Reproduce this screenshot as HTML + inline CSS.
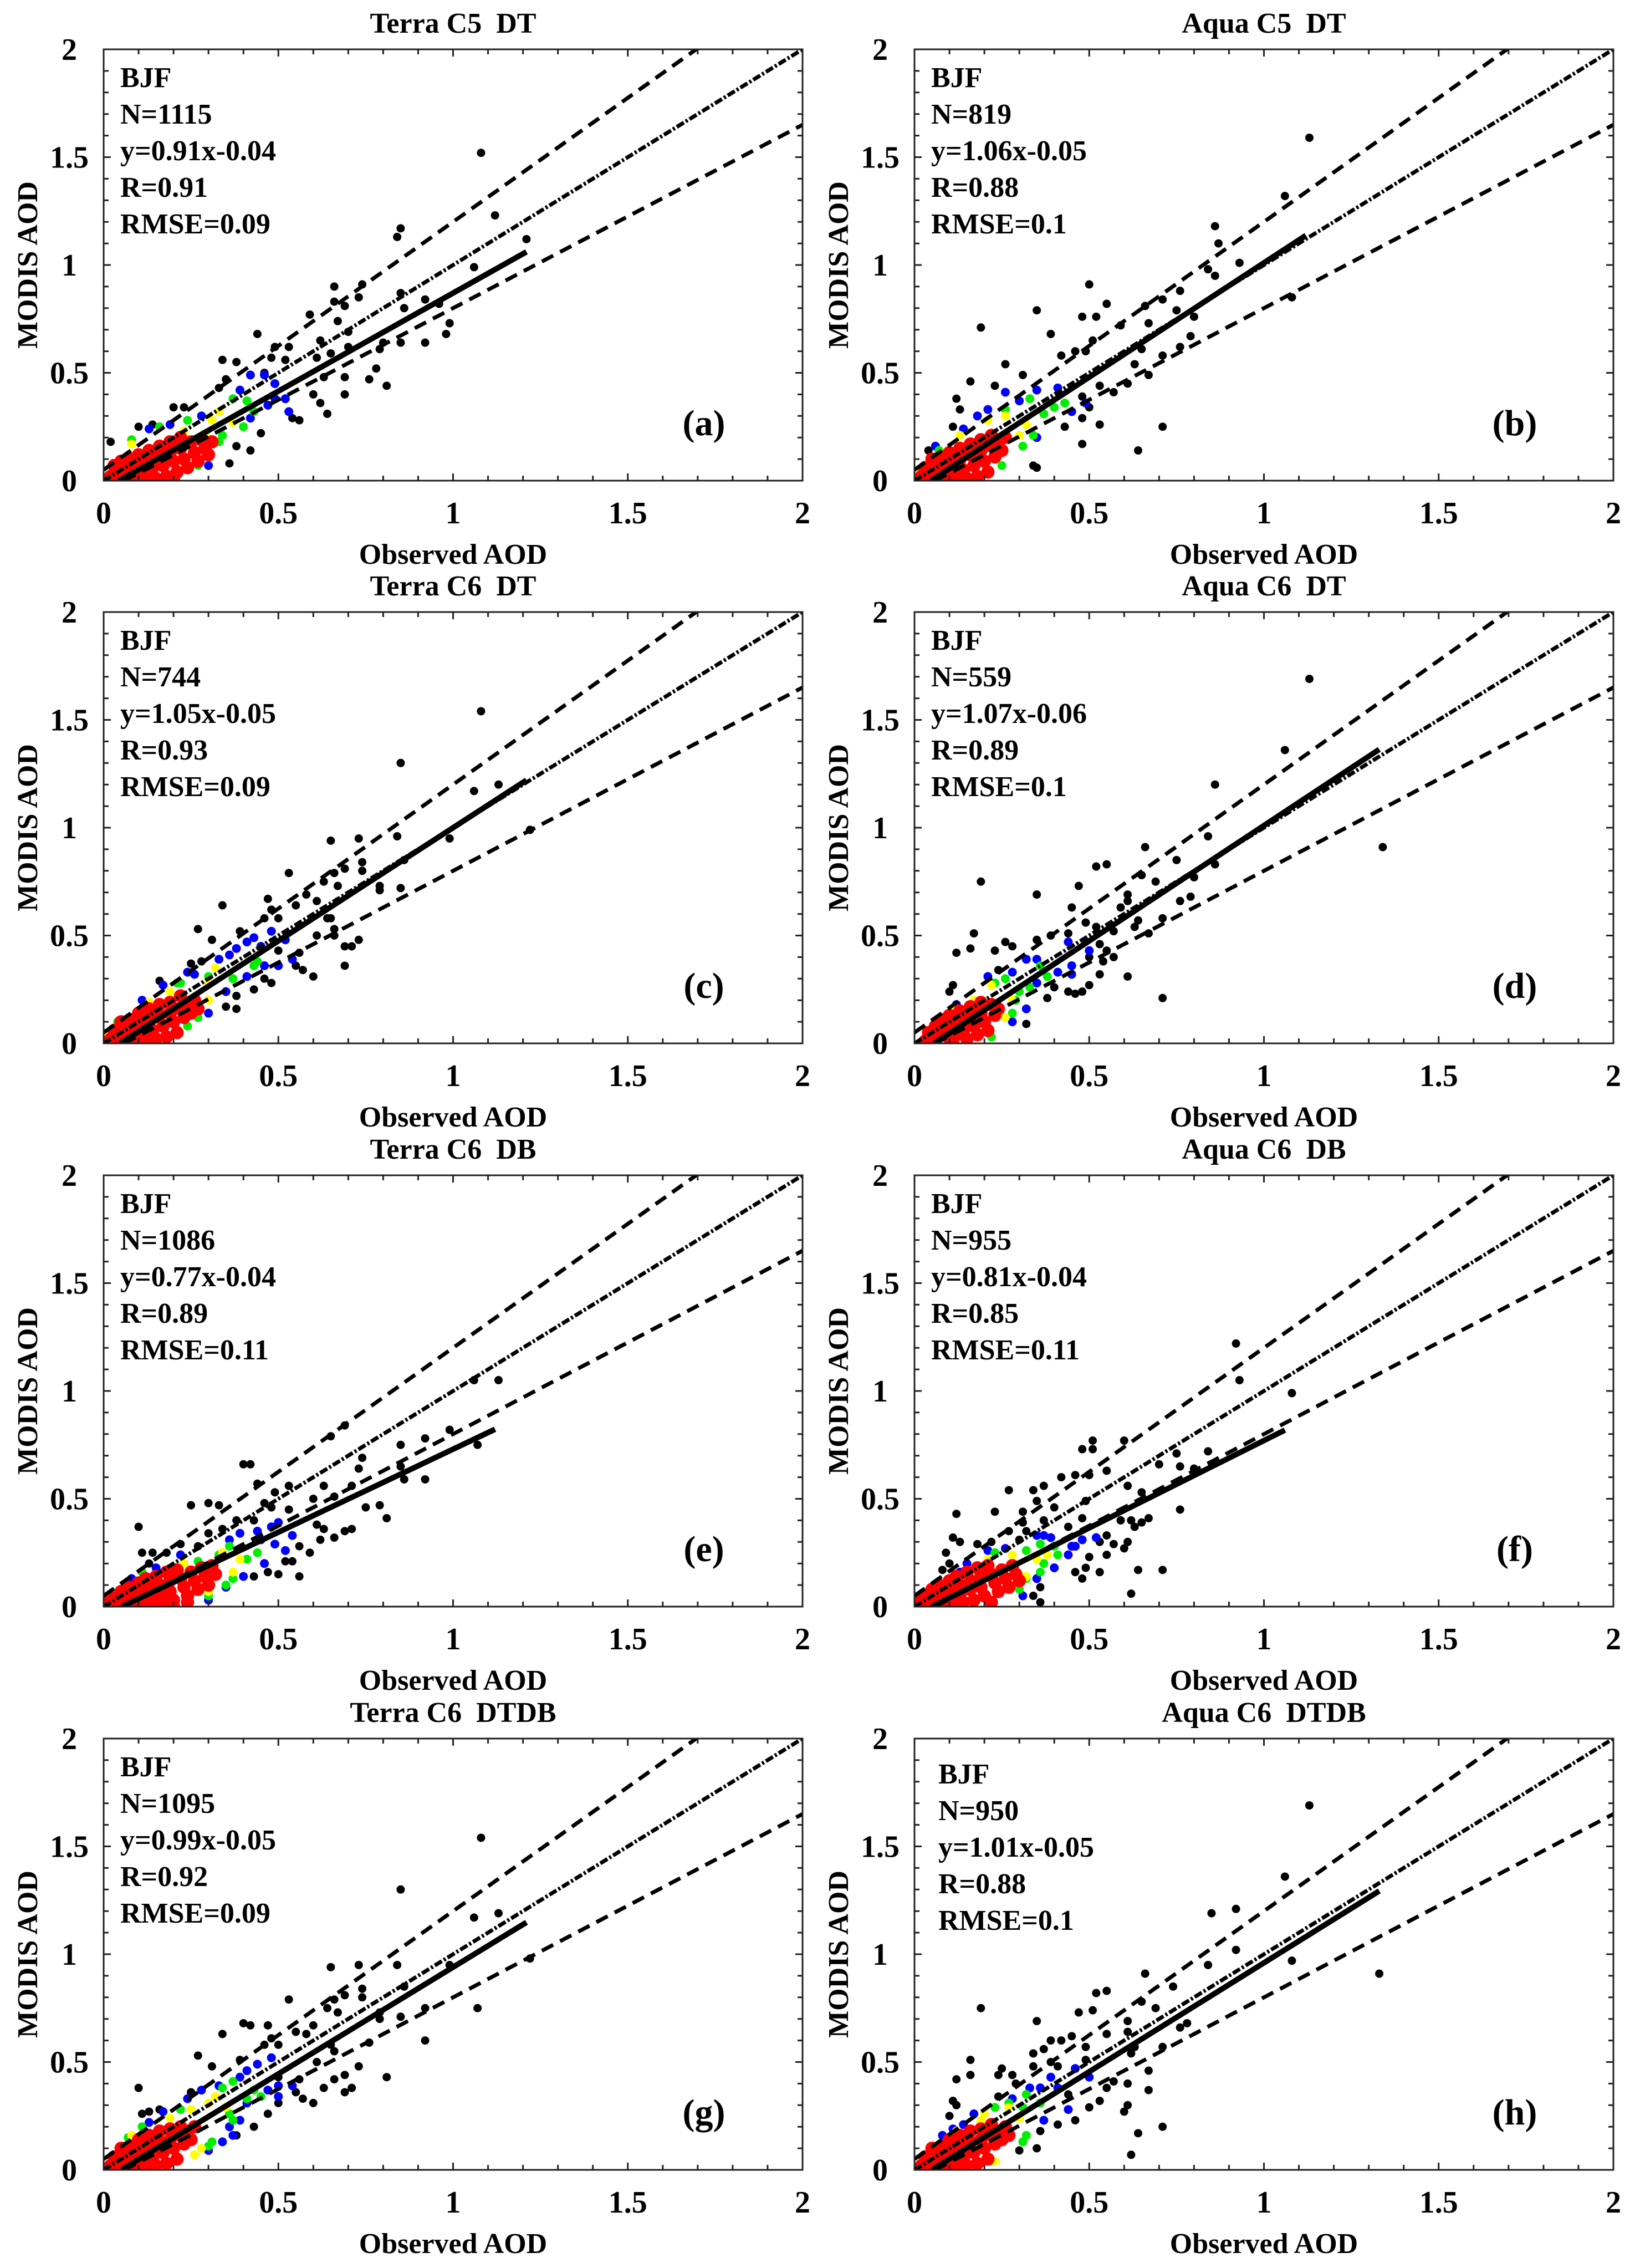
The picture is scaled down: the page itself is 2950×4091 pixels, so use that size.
<!DOCTYPE html>
<html><head><meta charset="utf-8"><style>
html,body{margin:0;padding:0;background:#fff}
svg{display:block}
text{font-family:"Liberation Serif","DejaVu Serif",serif;font-weight:bold;fill:#000;white-space:pre}
</style></head><body>
<svg id="fig" xmlns="http://www.w3.org/2000/svg" width="2950" height="4091" viewBox="0 0 2950 4091"></svg>
<script>
const panelIds=['a','b','c','d','e','f','g','h'];
const titles=['Terra C5  DT','Aqua C5  DT','Terra C6  DT','Aqua C6  DT','Terra C6  DB','Aqua C6  DB','Terra C6  DTDB','Aqua C6  DTDB'];
const nValues=[1115,819,744,559,1086,955,1095,950];
const slopes=[0.91,1.06,1.05,1.07,0.77,0.81,0.99,1.01];
const intercepts=[-0.04,-0.05,-0.05,-0.06,-0.04,-0.04,-0.05,-0.05];
const rValues=[0.91,0.88,0.93,0.89,0.89,0.85,0.92,0.88];
const rmseValues=[0.09,0.1,0.09,0.1,0.11,0.11,0.09,0.1];
const fitMaxX=[1.21,1.12,1.21,1.33,1.12,1.06,1.21,1.33];
const tickValues=[0,0.5,1,1.5,2];
const tickLabels=['0','0.5','1','1.5','2'];

const blackA=[1.08,1.52,1.12,1.23,1.21,1.12,0.85,1.17,0.84,1.13,1.06,0.99,0.66,0.90,0.74,0.91,0.73,0.85,0.66,0.83,0.85,0.87,0.92,0.84,0.96,0.82,0.86,0.80,0.99,0.73,0.98,0.68,0.92,0.64,0.85,0.64,0.80,0.64,0.79,0.61,0.69,0.81,0.67,0.74,0.59,0.77,0.70,0.69,0.62,0.65,0.70,0.62,0.65,0.59,0.61,0.57,0.53,0.62,0.49,0.62,0.44,0.68,0.52,0.56,0.78,0.52,0.76,0.47,0.69,0.48,0.81,0.44,0.63,0.48,0.69,0.40,0.60,0.40,0.62,0.36,0.64,0.31,0.56,0.28,0.54,0.29,0.45,0.22,0.42,0.14,0.38,0.16,0.36,0.08,0.34,0.56,0.38,0.55,0.35,0.47,0.33,0.43,0.23,0.34,0.20,0.34,0.10,0.25,0.02,0.18,0.14,0.26,0.48,0.57,0.46,0.50];
const blueA=[0.42,0.49,0.46,0.49,0.49,0.45,0.52,0.38,0.47,0.35,0.39,0.42,0.53,0.32,0.13,0.24,0.19,0.26,0.28,0.30,0.30,0.07,0.42,0.29,0.49,0.38];
const greenA=[0.37,0.38,0.41,0.37,0.43,0.32,0.33,0.18,0.34,0.21,0.27,0.07,0.24,0.28,0.08,0.19,0.16,0.25,0.40,0.25];
const yellowA=[0.33,0.32,0.31,0.28,0.37,0.27,0.30,0.13,0.08,0.17,0.23,0.23,0.29,0.22];
const redA=[0.02,0.02,0.04,0.05,0.05,0.01,0.06,0.08,0.07,0.03,0.08,0.10,0.09,0.05,0.10,0.01,0.10,0.12,0.11,0.08,0.12,0.03,0.13,0.14,0.13,0.10,0.14,0.06,0.15,0.01,0.16,0.16,0.16,0.11,0.17,0.07,0.18,0.02,0.19,0.18,0.19,0.13,0.20,0.09,0.21,0.04,0.22,0.20,0.22,0.15,0.23,0.10,0.24,0.06,0.25,0.18,0.26,0.13,0.27,0.09,0.28,0.19,0.29,0.15,0.30,0.12,0.31,0.18,0.05,0.09,0.03,0.07,0.08,0.00,0.12,0.00,0.17,0.00,0.20,0.01];

const blackB=[1.13,1.59,1.06,1.32,0.86,1.18,0.87,1.10,0.93,1.01,0.84,0.98,0.86,0.95,0.76,0.88,0.71,0.84,0.66,0.81,0.75,0.79,0.80,0.76,1.08,0.85,0.50,0.91,0.55,0.82,0.35,0.79,0.48,0.76,0.52,0.76,0.59,0.72,0.67,0.73,0.19,0.71,0.39,0.68,0.51,0.65,0.46,0.60,0.42,0.58,0.49,0.60,0.79,0.67,0.76,0.62,0.71,0.58,0.65,0.61,0.63,0.54,0.67,0.49,0.26,0.54,0.16,0.46,0.31,0.49,0.23,0.44,0.12,0.38,0.13,0.33,0.53,0.44,0.57,0.41,0.61,0.45,0.48,0.39,0.50,0.34,0.48,0.29,0.43,0.25,0.53,0.26,0.71,0.25,0.48,0.17,0.64,0.14,0.34,0.07,0.35,0.06,0.04,0.14,0.11,0.25];
const blueB=[0.26,0.41,0.30,0.37,0.35,0.42,0.41,0.43,0.45,0.32,0.49,0.36,0.18,0.30,0.14,0.24,0.35,0.20,0.06,0.16,0.21,0.33];
const greenB=[0.33,0.38,0.37,0.31,0.40,0.34,0.43,0.36,0.34,0.21,0.31,0.16,0.25,0.07,0.26,0.33,0.07,0.14];
const yellowB=[0.26,0.30,0.32,0.26,0.21,0.28,0.30,0.21,0.02,0.05,0.13,0.21];
const redB=[0.02,0.02,0.03,0.06,0.05,0.01,0.06,0.09,0.07,0.04,0.08,0.11,0.09,0.06,0.10,0.01,0.10,0.13,0.11,0.08,0.12,0.03,0.13,0.15,0.13,0.10,0.14,0.05,0.15,0.01,0.16,0.17,0.16,0.12,0.17,0.07,0.18,0.02,0.19,0.19,0.19,0.14,0.20,0.09,0.21,0.04,0.22,0.21,0.22,0.16,0.23,0.11,0.24,0.18,0.25,0.14,0.26,0.20,0.05,0.10,0.08,0.00,0.12,0.00];

const blackC=[1.08,1.54,0.85,1.30,1.06,1.17,1.13,1.20,0.99,0.95,1.22,0.99,0.65,0.94,0.73,0.95,0.84,0.96,0.86,0.85,0.74,0.84,0.69,0.81,0.74,0.80,0.53,0.79,0.66,0.79,0.63,0.75,0.67,0.73,0.79,0.73,0.79,0.71,0.85,0.72,0.58,0.69,0.47,0.67,0.55,0.64,0.61,0.66,0.34,0.64,0.48,0.62,0.50,0.58,0.46,0.58,0.64,0.58,0.65,0.58,0.66,0.53,0.61,0.50,0.66,0.50,0.73,0.48,0.71,0.45,0.69,0.45,0.69,0.36,0.27,0.53,0.31,0.48,0.39,0.52,0.50,0.43,0.56,0.42,0.55,0.36,0.57,0.34,0.60,0.31,0.25,0.37,0.28,0.38,0.16,0.29,0.46,0.30,0.48,0.28,0.43,0.25,0.38,0.22,0.35,0.17,0.38,0.16];
const blueC=[0.33,0.39,0.36,0.41,0.38,0.44,0.41,0.47,0.43,0.49,0.48,0.52,0.52,0.48,0.46,0.36,0.50,0.36,0.41,0.31,0.24,0.33,0.26,0.32,0.17,0.27,0.11,0.20,0.35,0.24,0.30,0.14,0.54,0.39,0.45,0.45];
const greenC=[0.43,0.36,0.44,0.38,0.37,0.30,0.30,0.31,0.21,0.28,0.22,0.28,0.27,0.12,0.24,0.08,0.04,0.10];
const yellowC=[0.32,0.35,0.30,0.28,0.30,0.20,0.13,0.19,0.19,0.24,0.01,0.03];
const redC=[0.02,0.02,0.03,0.06,0.05,0.01,0.06,0.09,0.07,0.04,0.08,0.11,0.09,0.06,0.10,0.01,0.10,0.14,0.11,0.09,0.12,0.03,0.13,0.16,0.13,0.11,0.14,0.06,0.15,0.02,0.16,0.18,0.16,0.13,0.17,0.08,0.18,0.03,0.19,0.19,0.19,0.14,0.20,0.10,0.21,0.05,0.22,0.22,0.22,0.16,0.23,0.12,0.24,0.18,0.25,0.14,0.26,0.20,0.27,0.16,0.05,0.10,0.08,0.00,0.12,0.00];

const blackD=[1.13,1.69,1.06,1.36,0.86,1.20,1.34,0.91,0.84,0.96,0.66,0.91,0.75,0.85,0.86,0.83,0.52,0.82,0.55,0.83,0.65,0.78,0.69,0.75,0.80,0.77,0.47,0.73,0.61,0.69,0.61,0.66,0.76,0.66,0.79,0.68,0.19,0.75,0.35,0.69,0.45,0.63,0.59,0.63,0.49,0.56,0.64,0.57,0.63,0.54,0.71,0.58,0.57,0.52,0.67,0.51,0.52,0.54,0.17,0.51,0.16,0.44,0.12,0.42,0.26,0.47,0.28,0.45,0.23,0.43,0.35,0.48,0.39,0.50,0.44,0.51,0.53,0.46,0.55,0.43,0.54,0.38,0.57,0.40,0.50,0.40,0.53,0.32,0.50,0.27,0.61,0.31,0.71,0.21,0.44,0.24,0.46,0.23,0.48,0.24,0.40,0.26,0.38,0.21,0.10,0.24,0.11,0.27,0.24,0.34,0.32,0.09];
const blueD=[0.32,0.39,0.35,0.39,0.44,0.47,0.50,0.43,0.45,0.36,0.41,0.33,0.35,0.28,0.28,0.33,0.21,0.31,0.32,0.16,0.28,0.10,0.12,0.18,0.45,0.32];
const greenD=[0.36,0.36,0.38,0.31,0.26,0.30,0.23,0.28,0.30,0.24,0.33,0.26,0.29,0.20,0.22,0.03,0.28,0.14];
const yellowD=[0.17,0.20,0.28,0.20,0.26,0.12,0.12,0.16,0.03,0.01,0.22,0.27];
const redD=[0.03,0.01,0.04,0.05,0.05,0.02,0.06,0.08,0.07,0.04,0.08,0.11,0.09,0.06,0.10,0.02,0.10,0.13,0.11,0.09,0.12,0.04,0.13,0.15,0.13,0.10,0.14,0.06,0.15,0.02,0.16,0.17,0.16,0.12,0.17,0.08,0.18,0.04,0.19,0.19,0.19,0.14,0.20,0.10,0.21,0.06,0.22,0.18,0.23,0.13,0.24,0.16,0.06,0.00,0.11,0.00];

const blackE=[1.13,1.05,1.06,1.05,0.69,0.84,0.65,0.79,0.99,0.82,0.92,0.78,0.85,0.75,1.07,0.75,0.74,0.69,0.73,0.64,0.85,0.65,0.86,0.59,0.92,0.59,0.40,0.66,0.42,0.66,0.44,0.57,0.53,0.56,0.49,0.53,0.63,0.56,0.71,0.56,0.66,0.51,0.60,0.50,0.46,0.48,0.48,0.46,0.53,0.45,0.75,0.46,0.79,0.47,0.81,0.41,0.25,0.47,0.30,0.48,0.33,0.47,0.38,0.40,0.43,0.40,0.61,0.38,0.63,0.36,0.69,0.35,0.71,0.36,0.66,0.32,0.62,0.31,0.10,0.37,0.30,0.34,0.34,0.36,0.22,0.29,0.27,0.28,0.18,0.25,0.11,0.25,0.14,0.25,0.56,0.28,0.59,0.25,0.52,0.21,0.54,0.21,0.56,0.14,0.50,0.15,0.47,0.16,0.43,0.14,0.13,0.20];
const blueE=[0.48,0.37,0.50,0.39,0.44,0.35,0.45,0.31,0.49,0.29,0.52,0.26,0.54,0.33,0.39,0.34,0.36,0.31,0.22,0.24,0.15,0.18,0.08,0.13,0.46,0.20,0.40,0.14,0.35,0.09,0.30,0.03];
const greenE=[0.41,0.22,0.44,0.25,0.36,0.28,0.37,0.13,0.35,0.10,0.27,0.21,0.11,0.16,0.30,0.05,0.33,0.24];
const yellowE=[0.37,0.16,0.39,0.22,0.23,0.20,0.30,0.07,0.34,0.25];
const redE=[0.01,0.02,0.03,0.04,0.04,0.01,0.05,0.07,0.06,0.03,0.07,0.09,0.08,0.05,0.09,0.01,0.10,0.11,0.10,0.07,0.11,0.03,0.12,0.13,0.13,0.09,0.13,0.05,0.14,0.01,0.15,0.14,0.16,0.10,0.16,0.06,0.17,0.02,0.18,0.16,0.19,0.12,0.19,0.07,0.20,0.03,0.21,0.17,0.22,0.13,0.23,0.09,0.24,0.05,0.25,0.16,0.26,0.12,0.27,0.08,0.28,0.18,0.29,0.14,0.30,0.10,0.31,0.19,0.32,0.15,0.24,0.02,0.20,0.00,0.12,0.00,0.06,0.00];

const blackF=[0.92,1.22,0.93,1.05,1.08,0.99,0.51,0.77,0.48,0.73,0.51,0.73,0.60,0.77,0.84,0.72,0.75,0.71,0.76,0.65,0.70,0.66,0.80,0.64,0.55,0.63,0.42,0.60,0.46,0.61,0.50,0.61,0.61,0.56,0.65,0.53,0.27,0.54,0.34,0.54,0.37,0.56,0.35,0.49,0.40,0.46,0.49,0.49,0.76,0.45,0.12,0.43,0.23,0.44,0.31,0.44,0.37,0.40,0.44,0.37,0.48,0.41,0.59,0.40,0.62,0.40,0.67,0.41,0.65,0.39,0.63,0.37,0.31,0.39,0.27,0.35,0.32,0.35,0.11,0.32,0.13,0.30,0.18,0.29,0.22,0.30,0.30,0.31,0.55,0.33,0.57,0.29,0.61,0.30,0.53,0.30,0.60,0.27,0.09,0.25,0.50,0.23,0.55,0.24,0.49,0.18,0.64,0.17,0.71,0.17,0.46,0.16,0.53,0.16,0.48,0.13,0.10,0.20,0.08,0.17,0.36,0.09,0.34,0.05,0.36,0.02,0.62,0.06];
const blueF=[0.37,0.33,0.39,0.32,0.35,0.33,0.45,0.28,0.46,0.28,0.44,0.24,0.52,0.32,0.48,0.31,0.26,0.27,0.21,0.26,0.15,0.20,0.13,0.16,0.40,0.18,0.35,0.13,0.31,0.05];
const greenF=[0.36,0.29,0.40,0.28,0.41,0.24,0.37,0.20,0.36,0.16,0.32,0.13,0.30,0.08,0.23,0.25,0.32,0.26];
const yellowF=[0.28,0.24,0.21,0.22,0.35,0.22,0.32,0.14,0.38,0.24];
const redF=[0.01,0.02,0.03,0.05,0.04,0.01,0.05,0.08,0.06,0.04,0.07,0.10,0.08,0.06,0.09,0.02,0.10,0.12,0.10,0.08,0.11,0.04,0.12,0.14,0.13,0.10,0.13,0.06,0.14,0.02,0.15,0.16,0.16,0.12,0.16,0.08,0.17,0.03,0.18,0.18,0.19,0.14,0.19,0.09,0.20,0.05,0.21,0.19,0.22,0.15,0.23,0.11,0.24,0.07,0.25,0.17,0.26,0.13,0.27,0.09,0.28,0.19,0.29,0.15,0.30,0.12,0.22,0.02,0.12,0.00,0.07,0.00];

const blackG=[1.08,1.54,0.85,1.30,1.06,1.17,1.13,1.19,1.22,0.98,0.99,0.95,1.07,0.75,0.65,0.94,0.73,0.95,0.84,0.95,0.86,0.85,0.74,0.84,0.69,0.81,0.74,0.80,0.53,0.79,0.66,0.79,0.64,0.75,0.92,0.75,0.67,0.73,0.79,0.73,0.79,0.70,0.85,0.71,0.92,0.60,0.40,0.68,0.42,0.67,0.47,0.67,0.58,0.63,0.60,0.67,0.55,0.64,0.34,0.63,0.48,0.61,0.50,0.58,0.46,0.58,0.65,0.58,0.76,0.59,0.66,0.55,0.61,0.50,0.73,0.48,0.81,0.43,0.69,0.44,0.66,0.42,0.63,0.38,0.69,0.36,0.71,0.38,0.27,0.53,0.31,0.48,0.39,0.51,0.50,0.43,0.56,0.42,0.55,0.36,0.57,0.33,0.60,0.31,0.50,0.31,0.25,0.36,0.10,0.38,0.16,0.28,0.13,0.27,0.11,0.26,0.47,0.26,0.43,0.20,0.38,0.16];
const blueG=[0.41,0.46,0.44,0.49,0.48,0.52,0.39,0.43,0.28,0.37,0.24,0.33,0.33,0.39,0.50,0.39,0.54,0.39,0.50,0.34,0.47,0.37,0.41,0.31,0.39,0.23,0.36,0.20,0.37,0.16,0.34,0.13,0.30,0.09,0.17,0.27,0.13,0.22];
const greenG=[0.37,0.41,0.34,0.38,0.43,0.37,0.45,0.34,0.41,0.33,0.36,0.26,0.37,0.23,0.31,0.13,0.30,0.11,0.22,0.28,0.11,0.20,0.07,0.15];
const yellowG=[0.32,0.34,0.30,0.31,0.35,0.29,0.19,0.24,0.25,0.28,0.28,0.10,0.26,0.07,0.08,0.16];
const redG=[0.02,0.02,0.03,0.06,0.05,0.01,0.06,0.09,0.07,0.04,0.08,0.11,0.09,0.06,0.10,0.01,0.10,0.14,0.11,0.09,0.12,0.03,0.13,0.16,0.13,0.11,0.14,0.06,0.15,0.02,0.16,0.18,0.16,0.13,0.17,0.08,0.18,0.03,0.19,0.19,0.19,0.14,0.20,0.10,0.21,0.05,0.22,0.20,0.22,0.16,0.23,0.12,0.24,0.18,0.25,0.14,0.26,0.20,0.05,0.10,0.08,0.00,0.12,0.00];

const blackH=[1.13,1.69,1.06,1.36,0.85,1.19,0.92,1.21,0.92,1.02,1.08,0.97,1.33,0.91,0.84,0.95,0.66,0.91,0.74,0.85,0.52,0.82,0.55,0.83,0.65,0.78,0.69,0.75,0.47,0.73,0.51,0.74,0.78,0.68,0.76,0.66,0.61,0.69,0.19,0.75,0.35,0.69,0.61,0.64,0.55,0.63,0.45,0.62,0.39,0.60,0.42,0.60,0.63,0.57,0.71,0.57,0.49,0.57,0.37,0.56,0.34,0.54,0.62,0.54,0.16,0.51,0.39,0.50,0.41,0.48,0.49,0.51,0.67,0.46,0.67,0.37,0.61,0.40,0.57,0.41,0.55,0.38,0.53,0.32,0.61,0.30,0.60,0.27,0.50,0.29,0.25,0.47,0.28,0.44,0.24,0.44,0.16,0.44,0.12,0.42,0.29,0.40,0.34,0.48,0.11,0.32,0.12,0.30,0.10,0.25,0.24,0.34,0.30,0.09,0.35,0.10,0.46,0.23,0.41,0.21,0.71,0.20,0.64,0.17,0.62,0.07,0.36,0.18,0.44,0.35];
const blueH=[0.46,0.47,0.50,0.43,0.39,0.43,0.41,0.38,0.36,0.38,0.33,0.38,0.44,0.28,0.37,0.23,0.28,0.33,0.17,0.26,0.11,0.19,0.08,0.16,0.14,0.21];
const greenH=[0.32,0.35,0.36,0.31,0.31,0.29,0.23,0.29,0.32,0.16,0.31,0.13,0.27,0.31];
const yellowH=[0.30,0.24,0.27,0.29,0.12,0.18,0.19,0.23,0.23,0.04,0.20,0.26];
const redH=[0.02,0.02,0.03,0.06,0.05,0.01,0.06,0.09,0.07,0.04,0.08,0.11,0.09,0.06,0.10,0.01,0.10,0.14,0.11,0.09,0.12,0.03,0.13,0.16,0.13,0.11,0.14,0.06,0.15,0.02,0.16,0.18,0.16,0.13,0.17,0.08,0.18,0.03,0.19,0.19,0.19,0.14,0.20,0.10,0.21,0.05,0.22,0.21,0.22,0.16,0.23,0.12,0.24,0.18,0.25,0.14,0.26,0.20,0.27,0.16,0.05,0.10,0.08,0.00,0.12,0.00];

const blackSets=[blackA,blackB,blackC,blackD,blackE,blackF,blackG,blackH];
const blueSets=[blueA,blueB,blueC,blueD,blueE,blueF,blueG,blueH];
const greenSets=[greenA,greenB,greenC,greenD,greenE,greenF,greenG,greenH];
const yellowSets=[yellowA,yellowB,yellowC,yellowD,yellowE,yellowF,yellowG,yellowH];
const redSets=[redA,redB,redC,redD,redE,redF,redG,redH];

const NS='http://www.w3.org/2000/svg';
const svg=document.getElementById('fig');
const PW=1261, PH=778;
const colX=[187,1650];
const rowY=[89,1104,2120,3136];
function mk(tag,attrs,parent){const e=document.createElementNS(NS,tag);for(const k in attrs)e.setAttribute(k,attrs[k]);parent.appendChild(e);return e;}

for(let p=0;p<8;p++){
  const X0=colX[p%2], Y0=rowY[Math.floor(p/2)];
  const sx=v=>X0+v/2*PW, sy=v=>Y0+PH-v/2*PH;
  const g=mk('g',{},svg);
  
  
  const cid='clip'+p;
  const cp=mk('clipPath',{id:cid},g);
  mk('rect',{x:X0,y:Y0,width:PW,height:PH},cp);
  const t=mk('text',{x:X0+PW/2,y:Y0-30,'font-size':52,'text-anchor':'middle'},g);
  t.textContent=titles[p];
  
  
  const yl=mk('text',{x:0,y:0,'font-size':52,'text-anchor':'middle',transform:`translate(${X0-120},${Y0+PH/2}) rotate(-90)`},g);
  yl.textContent='MODIS AOD';
  
  
  const xl=mk('text',{x:X0+PW/2,y:Y0+PH+150,'font-size':52,'text-anchor':'middle'},g);
  xl.textContent='Observed AOD';
  
  
  for(let i=0;i<tickValues.length;i++){
    const ty=mk('text',{x:X0-62,y:sy(tickValues[i])+19,'font-size':56,'text-anchor':'middle'},g);
    ty.textContent=tickLabels[i];
    
    
    const tx=mk('text',{x:sx(tickValues[i]),y:Y0+PH+77,'font-size':56,'text-anchor':'middle'},g);
    tx.textContent=tickLabels[i];
    
    
  }
  const pg=mk('g',{'clip-path':`url(#${cid})`},g);
  
  
  const layers=[[blackSets[p],'#000',7.5],[blueSets[p],'#0000ff',8],[greenSets[p],'#00ee00',8],[yellowSets[p],'#ffff00',8],[redSets[p],'#ff0000',12]];
  for(const [arr,col,r] of layers){
    for(let i=0;i+1<arr.length;i+=2){
      const c=mk('circle',{cx:sx(arr[i]),cy:sy(arr[i+1]),r:r,fill:col},pg);
      
      
    }
  }
  const lg=mk('g',{'clip-path':`url(#${cid})`,fill:'none',stroke:'#000'},g);
  const l1=mk('line',{x1:sx(0),y1:sy(0),x2:sx(2),y2:sy(2),'stroke-width':7,'stroke-dasharray':'15 4 4 4'},lg);
  
  
  const up=mk('line',{x1:sx(0),y1:sy(0.05),x2:sx((2-0.05)/1.15),y2:sy(2),'stroke-width':7,'stroke-dasharray':'23 14'},lg);
  
  
  const lo=mk('line',{x1:sx(0.05/0.85),y1:sy(0),x2:sx(2),y2:sy(2*0.85-0.05),'stroke-width':7,'stroke-dasharray':'23 14'},lg);
  
  
  const x0=-intercepts[p]/slopes[p];
  const fl=mk('line',{x1:sx(x0),y1:sy(0),x2:sx(fitMaxX[p]),y2:sy(slopes[p]*fitMaxX[p]+intercepts[p]),'stroke-width':10},lg);
  
  
  const fr=mk('rect',{x:X0,y:Y0,width:PW,height:PH,fill:'none',stroke:'#222','stroke-width':3},g);
  
  
  let d='';
  for(let k=1;k<20;k++){
    const v=k/10, len=(k%5===0)?13:9;
    d+=`M${sx(v)},${Y0+PH}v${-len}M${sx(v)},${Y0}v${len}`;
    d+=`M${X0},${sy(v)}h${len}M${X0+PW},${sy(v)}h${-len}`;
  }
  const tk=mk('path',{d:d,stroke:'#222','stroke-width':3,fill:'none'},g);
  
  
  const dx=p===7?13:0, dy=p===7?13:0;
  const lines=['BJF','N='+nValues[p],'y='+slopes[p]+'x-'+Math.abs(intercepts[p]),'R='+rValues[p],'RMSE='+rmseValues[p]];
  for(let i=0;i<lines.length;i++){
    const a=mk('text',{x:X0+30+dx,y:Y0+68+dy+i*66,'font-size':52},g);
    a.textContent=lines[i];
    
    
  }
  const pl=mk('text',{x:X0+1083,y:Y0+PH-82,'font-size':66,'text-anchor':'middle'},g);
  pl.textContent='('+panelIds[p]+')';
  
  
}
</script>
</body></html>
